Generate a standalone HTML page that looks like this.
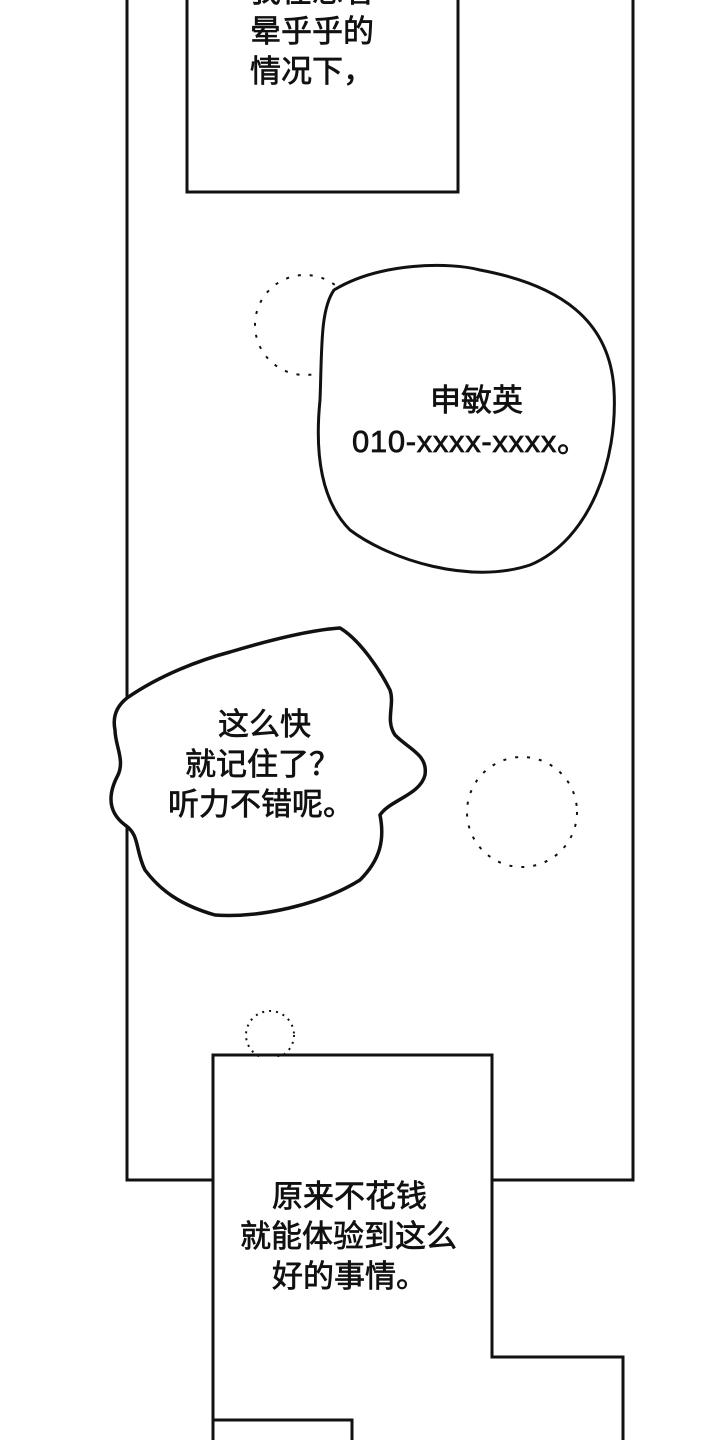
<!DOCTYPE html>
<html><head><meta charset="utf-8"><style>
body{margin:0;width:720px;height:1440px;background:#fff;overflow:hidden}
svg{display:block}
text{font-family:"Liberation Sans","Noto Sans CJK SC",sans-serif;font-size:31px;fill:#111;stroke:#111;stroke-width:0.7}
</style></head><body>
<svg width="720" height="1440" viewBox="0 0 720 1440">
<g fill="none" stroke="#111" stroke-width="3">
<path d="M127 0 V1180 H213"/>
<path d="M492 1180 H633 V0"/>
<rect x="187" y="-5" width="271" height="197" fill="#fff"/>
</g>
<g stroke="#111" stroke-width="2" fill="none" stroke-dasharray="3 9">
<circle cx="305" cy="325" r="50"/>
<circle cx="522" cy="812" r="55"/>
<circle cx="270" cy="1035" r="24" stroke-dasharray="2 5"/>
</g>
<g fill="none" stroke="#111" stroke-width="3">
<path d="M334 290 C380 262 450 262 480 270 C560 285 610 320 614 390 C618 460 590 540 530 565 C470 585 390 560 350 530 C320 500 315 450 320 400 C322 350 320 310 334 290 Z" fill="#fff"/>
<path d="M127 698 C160 675 200 660 230 652 C270 640 310 630 340 628 C360 640 380 670 390 690 C395 705 385 720 395 735 C410 750 428 755 425 775 C420 795 390 800 380 815 C385 840 380 860 360 880 C320 905 260 918 215 915 C180 905 160 890 145 870 C135 850 140 835 125 825 C105 810 110 790 118 775 C125 760 115 745 115 730 C112 715 118 705 127 698 Z" fill="#fff" stroke-width="3.5"/>
<rect x="214" y="1057" width="277" height="120" fill="#fff" stroke="none"/>
<path d="M213 1440 V1420 H352 V1440" />
<path d="M213 1420 V1055 H492 V1357 H623 V1440"/>
</g>
<text x="250" y="42">晕乎乎的</text>
<text x="250" y="82">情况下，</text>
<text x="250" y="2">我在想着</text>
<text x="430" y="411">申敏英</text>
<text x="352" y="452" textLength="236">010-xxxx-xxxx。</text>
<text x="218" y="735">这么快</text>
<text x="185" y="775">就记住了？</text>
<text x="168" y="815">听力不错呢。</text>
<text x="272" y="1207">原来不花钱</text>
<text x="240" y="1247">就能体验到这么</text>
<text x="272" y="1287">好的事情。</text>
</svg>
</body></html>
